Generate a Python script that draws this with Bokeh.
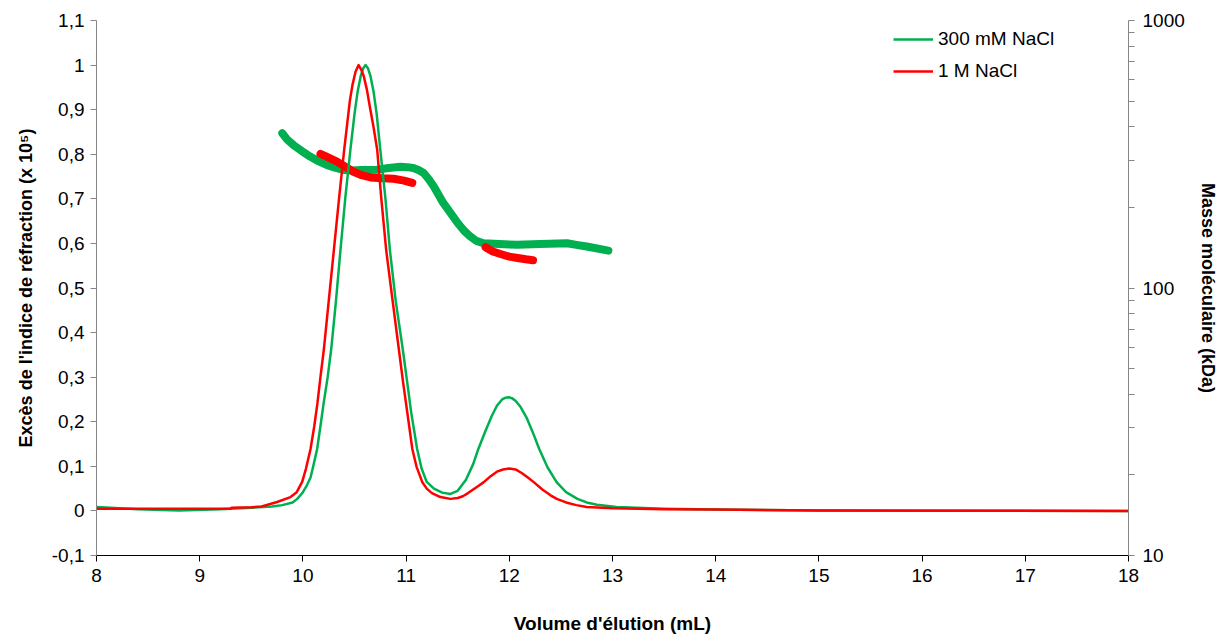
from bokeh.plotting import figure
from bokeh.models import (Range1d, LogScale, LogAxis, FixedTicker,
                          CustomJSTickFormatter, Legend, LegendItem)
from bokeh.embed import file_html
from bokeh.resources import INLINE

# ---------------- data ----------------
# Refractive index excess, 300 mM NaCl (green)
ri_green_x = [8.0, 8.4, 8.8, 9.2, 9.5, 9.7, 9.80, 9.90, 9.945, 10.0, 10.04, 10.074, 10.10,
              10.138, 10.17, 10.2, 10.24, 10.274, 10.32, 10.364, 10.41, 10.46, 10.50, 10.53,
              10.56, 10.585, 10.607, 10.63, 10.655, 10.685, 10.715, 10.75, 10.80, 10.843,
              10.90, 10.968, 11.01, 11.05, 11.107, 11.15, 11.20, 11.27, 11.35, 11.43, 11.5,
              11.58, 11.65, 11.70, 11.77, 11.83, 11.88, 11.93, 11.965, 11.995, 12.025, 12.06,
              12.11, 12.17, 12.23, 12.29, 12.37, 12.46, 12.55, 12.66, 12.75, 12.85, 13.04,
              13.5, 14.0, 15.0, 16.0, 18.0]
ri_green = [0.009, 0.004, 0.001, 0.004, 0.007, 0.010, 0.013, 0.019, 0.027, 0.042, 0.058, 0.075, 0.10,
            0.139, 0.19, 0.24, 0.30, 0.362, 0.47, 0.585, 0.70, 0.81, 0.89, 0.94,
            0.975, 0.993, 1.0, 0.993, 0.975, 0.94, 0.89, 0.81, 0.70, 0.585,
            0.47, 0.362, 0.29, 0.22, 0.139, 0.095, 0.065, 0.05, 0.041, 0.038, 0.045,
            0.07, 0.105, 0.139, 0.18, 0.213, 0.236, 0.25, 0.254, 0.255, 0.253, 0.247,
            0.233, 0.208, 0.175, 0.139, 0.098, 0.064, 0.042, 0.027, 0.019, 0.014, 0.009,
            0.005, 0.003, 0.001, 0.0005, 0.0]

# Refractive index excess, 1 M NaCl (red)
ri_red_x = [8.0, 9.3, 9.31, 9.5, 9.6, 9.75, 9.88, 9.94, 9.993, 10.03, 10.074, 10.11, 10.14,
            10.17, 10.203, 10.25, 10.30, 10.35, 10.40, 10.43, 10.455, 10.48, 10.51, 10.54,
            10.565, 10.59, 10.62, 10.65, 10.685, 10.72, 10.76, 10.807, 10.87, 10.93, 10.97,
            11.0, 11.03, 11.06, 11.10, 11.156, 11.2, 11.25, 11.333, 11.43, 11.5, 11.55, 11.6,
            11.65, 11.7, 11.75, 11.82, 11.88, 11.94, 12.0, 12.06, 12.12, 12.18, 12.24, 12.32,
            12.40, 12.46, 12.55, 12.65, 12.75, 12.9, 13.0, 13.5, 14.0, 15.0, 18.0]
ri_red = [0.005, 0.005, 0.007, 0.008, 0.010, 0.020, 0.031, 0.042, 0.065, 0.095, 0.139, 0.19, 0.24,
          0.30, 0.362, 0.47, 0.585, 0.70, 0.81, 0.87, 0.92, 0.955, 0.985, 1.0,
          0.99, 0.975, 0.945, 0.905, 0.86, 0.81, 0.70, 0.585, 0.47, 0.362, 0.29,
          0.24, 0.19, 0.139, 0.10, 0.065, 0.05, 0.04, 0.031, 0.027, 0.029, 0.033, 0.04,
          0.048, 0.056, 0.064, 0.078, 0.088, 0.093, 0.095, 0.093, 0.085, 0.075, 0.064, 0.048,
          0.035, 0.027, 0.019, 0.013, 0.009, 0.007, 0.006, 0.004, 0.003, 0.001, 0.0]

# Molecular mass (kDa), 300 mM NaCl (green)
mw_green_x = [9.80, 9.85, 9.91, 9.99, 10.07, 10.15, 10.235, 10.32, 10.40, 10.48, 10.56, 10.64,
              10.72, 10.83, 10.946, 11.01, 11.07, 11.12, 11.17, 11.22, 11.27, 11.36, 11.43,
              11.50, 11.56, 11.62, 11.68, 11.75, 11.9, 12.08, 12.3, 12.56, 12.65, 12.75, 12.96]
mw_green = [379, 358, 342, 325, 310, 298, 288, 281, 276, 275, 276, 276,
            277, 281, 284, 283, 281, 276, 269, 255, 239, 208, 191,
            175, 164, 156, 150, 147, 146, 145, 146, 147, 145, 143, 138]

# Molecular mass (kDa), 1 M NaCl (red) - two segments
mw_red_x1 = [10.17, 10.25, 10.33, 10.41, 10.49, 10.57, 10.655, 10.77, 10.88, 10.98, 11.06]
mw_red_1 = [317, 307, 297, 284, 272, 264, 259, 257, 256, 252, 247]
mw_red_x2 = [11.77, 11.84, 11.915, 12.0, 12.08, 12.16, 12.23]
mw_red_2 = [142, 137, 134, 131, 129.5, 128, 127]

x_ticks = [8, 9, 10, 11, 12, 13, 14, 15, 16, 17, 18]
y_ticks = [-0.1, 0, 0.1, 0.2, 0.3, 0.4, 0.5, 0.6, 0.7, 0.8, 0.9, 1.0, 1.1]
mw_ticks = [10, 100, 1000]
mw_minor = [20, 30, 40, 50, 60, 70, 80, 90, 200, 300, 400, 500, 600, 700, 800, 900]

labels = ["300 mM NaCl", "1 M NaCl"]
GREEN = "#00B050"
RED = "#FF0000"
FONT = "Liberation Sans"

# ---------------- figure ----------------
p = figure(width=1221, height=636, output_backend="svg", toolbar_location=None,
           x_range=Range1d(8, 18), y_range=Range1d(-0.1, 1.1),
           min_border_left=96, min_border_right=93, min_border_top=20,
           min_border_bottom=79)
p.outline_line_color = None
p.xgrid.visible = False
p.ygrid.visible = False
p.background_fill_color = "white"
p.border_fill_color = "white"

p.extra_y_ranges = {"mw": Range1d(10, 1000)}
p.extra_y_scales = {"mw": LogScale()}

# mass lines (thick)
p.line(mw_green_x, mw_green, y_range_name="mw", color=GREEN, line_width=8,
       line_cap="round", line_join="round")
p.line(mw_red_x1, mw_red_1, y_range_name="mw", color=RED, line_width=8,
       line_cap="round", line_join="round")
p.line(mw_red_x2, mw_red_2, y_range_name="mw", color=RED, line_width=8,
       line_cap="round", line_join="round")

# RI lines
rg = p.line(ri_green_x, ri_green, color=GREEN, line_width=2.5, line_join="round")
rr = p.line(ri_red_x, ri_red, color=RED, line_width=2.5, line_join="round")

# axes styling
def style_axis(ax, line_color, tick_size, label_size):
    ax.axis_line_color = line_color
    ax.major_tick_line_color = line_color
    ax.minor_tick_line_color = line_color
    ax.major_tick_out = 6
    ax.major_tick_in = 0
    ax.minor_tick_out = 0
    ax.minor_tick_in = 0
    ax.major_label_text_font = FONT
    ax.major_label_text_font_size = tick_size
    ax.major_label_text_color = "#000000"
    ax.axis_label_text_font = FONT
    ax.axis_label_text_font_size = label_size
    ax.axis_label_text_font_style = "bold"
    ax.axis_label_text_color = "#000000"

xa = p.xaxis[0]
style_axis(xa, "#000000", "19px", "19px")
xa.ticker = FixedTicker(ticks=x_ticks)
xa.axis_label = "Volume d'élution (mL)"
xa.major_label_standoff = 7
xa.axis_label_standoff = 28

ya = p.yaxis[0]
style_axis(ya, "#868686", "19px", "18px")
ya.ticker = FixedTicker(ticks=y_ticks)
ya.formatter = CustomJSTickFormatter(
    code="var s = (Math.round(tick*10)/10).toString(); return s.replace('.', ',');")
ya.axis_label = "Excès de l'indice de réfraction (x 10⁵)"
ya.major_label_standoff = 6
ya.axis_label_standoff = 13

ra = LogAxis(y_range_name="mw")
style_axis(ra, "#868686", "19px", "18px")
ra.ticker = FixedTicker(ticks=mw_ticks, minor_ticks=mw_minor)
ra.minor_tick_out = 6
ra.formatter = CustomJSTickFormatter(code="return Math.round(tick).toString();")
ra.axis_label = "Masse moléculaire (kDa)"
ra.major_label_standoff = 8
ra.axis_label_standoff = 10
p.add_layout(ra, "right")

legend = Legend(items=[LegendItem(label=labels[0], renderers=[rg]),
                       LegendItem(label=labels[1], renderers=[rr])],
                location=(797, 473), orientation="vertical")
legend.border_line_alpha = 0
legend.background_fill_alpha = 0
legend.padding = 0
legend.margin = 0
legend.spacing = 10
legend.glyph_width = 40
legend.glyph_height = 22
legend.label_height = 22
legend.label_standoff = 5
legend.label_text_font = FONT
legend.label_text_font_size = "19px"
legend.label_text_color = "#000000"
p.add_layout(legend, "center")

open("out.html", "w").write(file_html(p, INLINE))
